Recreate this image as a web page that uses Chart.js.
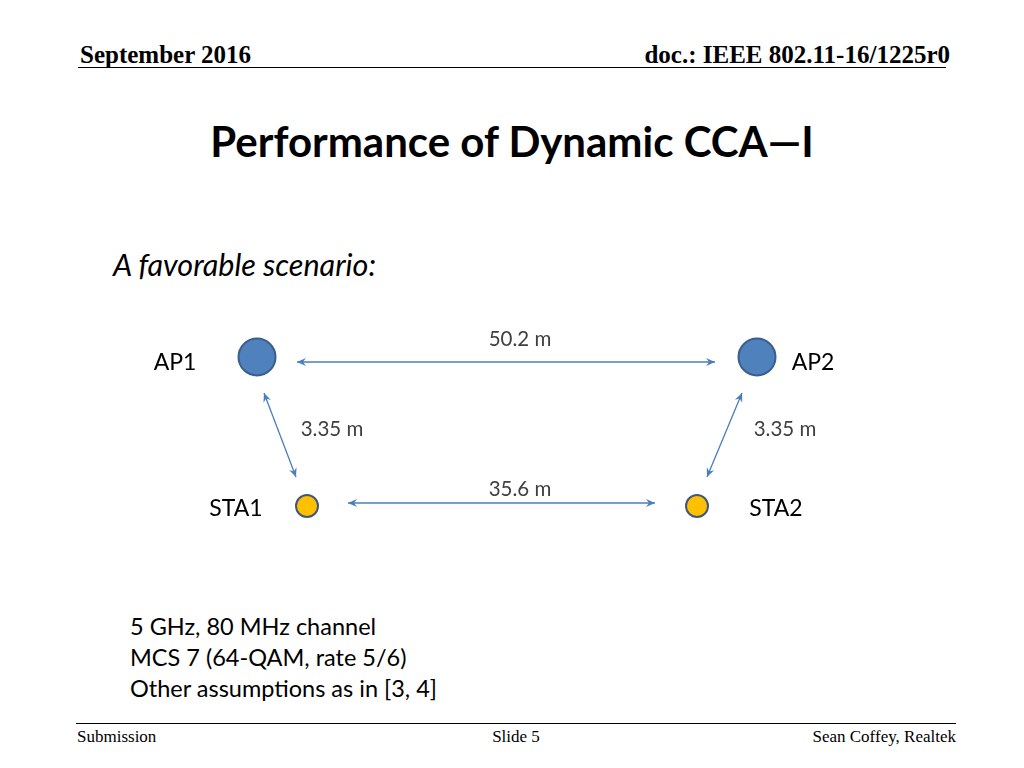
<!DOCTYPE html>
<html>
<head>
<meta charset="utf-8">
<script src="https://cdn.jsdelivr.net/npm/chart.js@4"></script>
<style>
body { margin: 0; width: 1024px; height: 768px; position: relative; background: #fff; overflow: hidden; }
.t { position: absolute; white-space: nowrap; line-height: 1; }
.serif { font-family: "Liberation Serif", "Times New Roman", serif; }
.sans { font-family: Lato, "Open Sans", sans-serif; color: #000; }
.rule { position: absolute; height: 0; border-top: 1.5px solid #000; }
#diagram { position: absolute; left: 0; top: 0; }
</style>
</head>
<body>
<div class="t serif" style="left:80px;top:42px;font-size:25px;font-weight:bold;">September 2016</div>
<div class="t serif" style="right:74px;top:42px;font-size:25px;font-weight:bold;">doc.: IEEE 802.11-16/1225r0</div>
<div class="rule" style="left:78px;width:868px;top:67px;"></div>

<div class="t sans" style="left:0;width:1024px;text-align:center;top:120px;font-size:42px;font-weight:bold;">Performance of Dynamic CCA—I</div>
<div class="t sans" style="left:113px;top:249px;font-size:30.5px;font-style:italic;">A favorable scenario:</div>

<div class="t sans" style="left:130px;top:615px;font-size:23.5px;">5 GHz, 80 MHz channel</div>
<div class="t sans" style="left:130px;top:646px;font-size:23.5px;">MCS 7 (64-QAM, rate 5/6)</div>
<div class="t sans" style="left:130px;top:677px;font-size:23.5px;">Other assumptions as in [3, 4]</div>

<div class="rule" style="left:76px;width:880px;top:723px;"></div>
<div class="t serif" style="left:77px;top:728px;font-size:17px;">Submission</div>
<div class="t serif" style="left:0;width:1032px;text-align:center;top:728px;font-size:17px;">Slide 5</div>
<div class="t serif" style="right:68px;top:728px;font-size:17px;">Sean Coffey, Realtek</div>

<canvas id="diagram" width="1024" height="768"></canvas>

<script>
// nodes
const nodeNames = ['AP1', 'AP2', 'STA1', 'STA2'];
const nodeX = [257, 757, 307, 697];
const nodeY = [357, 357, 506, 506];
const nodeLabelX = [175, 813, 236, 776];
const nodeLabelY = [370, 370, 516, 516];

// links (double-headed arrows) and their distance labels
const linkLabels = ['50.2 m', '35.6 m', '3.35 m', '3.35 m'];
const linkStartX = [297, 348, 264, 742];
const linkStartY = [362, 503, 393, 393];
const linkEndX = [715, 655, 296, 707];
const linkEndY = [362, 503, 477, 477];
const linkLabelX = [520, 520, 332, 785];
const linkLabelY = [346, 496, 436, 436];

document.addEventListener("DOMContentLoaded", () => {
    const arrowColour = '#4a7ebb';

    const datasets = [];
    // arrows first so nodes sit on top
    for (let i = 0; i < linkLabels.length; i++) {
        datasets.push({
            label: linkLabels[i],
            data: [{x: linkStartX[i], y: linkStartY[i]}, {x: linkEndX[i], y: linkEndY[i]}],
            showLine: true,
            borderColor: arrowColour,
            borderWidth: 1.3,
            pointRadius: 0,
            isArrow: true
        });
    }
    const points = nodeNames.map((n, i) => ({x: nodeX[i], y: nodeY[i]}));
    datasets.push({
        label: 'AP',
        data: points.filter((p, i) => nodeNames[i].startsWith('AP')),
        pointRadius: 18.5,
        pointBackgroundColor: '#4f81bd',
        pointBorderColor: '#3a5f8c',
        pointBorderWidth: 2
    });
    datasets.push({
        label: 'STA',
        data: points.filter((p, i) => nodeNames[i].startsWith('STA')),
        pointRadius: 11,
        pointBackgroundColor: '#ffc000',
        pointBorderColor: '#41587a',
        pointBorderWidth: 2
    });

    const diagramPlugin = {
        id: 'diagram',
        afterDatasetsDraw(chart) {
            const ctx = chart.ctx;
            const xs = chart.scales.x, ys = chart.scales.y;
            ctx.save();
            // arrow heads
            chart.data.datasets.forEach((ds, di) => {
                if (!ds.isArrow) return;
                const pts = chart.getDatasetMeta(di).data;
                const a = pts[0], b = pts[1];
                drawHead(ctx, b.x, b.y, a.x, a.y);
                drawHead(ctx, a.x, a.y, b.x, b.y);
            });
            // node labels
            ctx.fillStyle = '#000';
            ctx.font = '23px Lato, "Open Sans", sans-serif';
            ctx.textAlign = 'center';
            ctx.textBaseline = 'alphabetic';
            nodeNames.forEach((n, i) => {
                ctx.fillText(n, xs.getPixelForValue(nodeLabelX[i]), ys.getPixelForValue(nodeLabelY[i]));
            });
            // distance labels
            ctx.fillStyle = '#404040';
            ctx.font = '20.5px Lato, "Open Sans", sans-serif';
            linkLabels.forEach((l, i) => {
                ctx.fillText(l, xs.getPixelForValue(linkLabelX[i]), ys.getPixelForValue(linkLabelY[i]));
            });
            ctx.restore();

            function drawHead(c, fromX, fromY, tipX, tipY) {
                const ang = Math.atan2(tipY - fromY, tipX - fromX);
                const len = 9, half = 4;
                c.save();
                c.translate(tipX, tipY);
                c.rotate(ang);
                c.fillStyle = arrowColour;
                c.beginPath();
                c.moveTo(0, 0);
                c.lineTo(-len, -half);
                c.lineTo(-len + 3, 0);
                c.lineTo(-len, half);
                c.closePath();
                c.fill();
                c.restore();
            }
        }
    };

    new Chart(document.getElementById('diagram').getContext('2d'), {
        type: 'scatter',
        data: { datasets: datasets },
        options: {
            responsive: false,
            animation: false,
            layout: { padding: 0, autoPadding: false },
            scales: {
                x: { type: 'linear', min: 0, max: 1024, display: false },
                y: { type: 'linear', min: 0, max: 768, reverse: true, display: false }
            },
            plugins: {
                legend: { display: false },
                tooltip: { enabled: false }
            },
            clip: false
        },
        plugins: [diagramPlugin]
    });
});
</script>
</body>
</html>
